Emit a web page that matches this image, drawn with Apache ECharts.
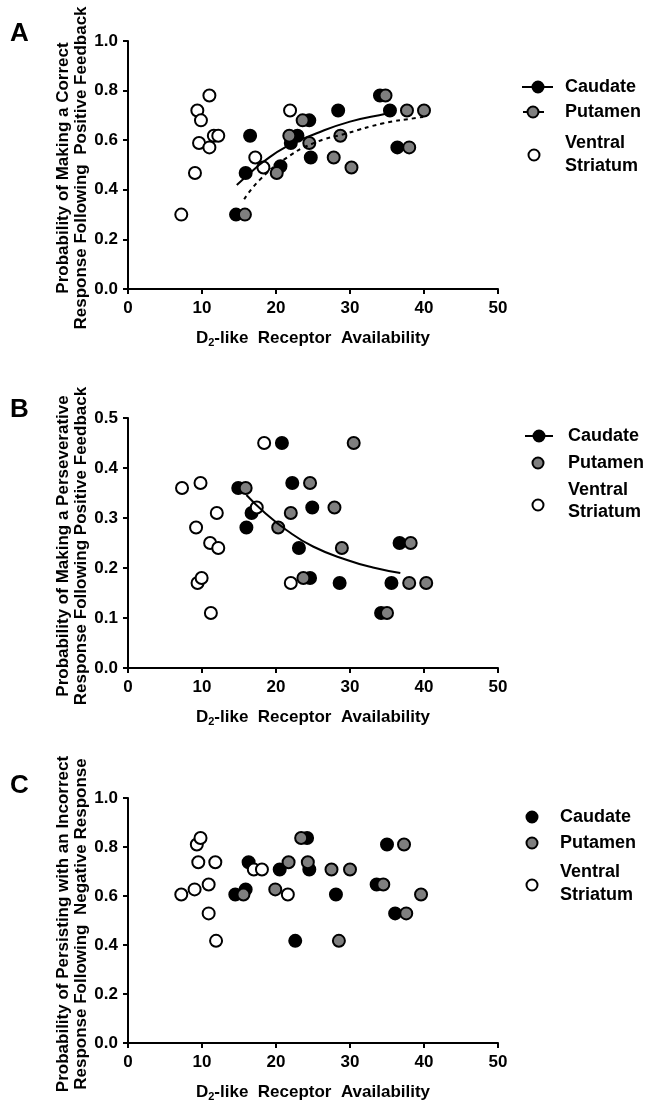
<!DOCTYPE html>
<html><head><meta charset="utf-8">
<script src="https://cdn.jsdelivr.net/npm/echarts@6/dist/echarts.min.js"></script>
<style>html,body{margin:0;padding:0;background:#fff}#c{width:648px;height:1103px}</style>
</head><body><div id="c"></div>
<script>
// ---------- Panel A: correct response following positive feedback ----------
const caudateA = [[14.6,0.30],[15.9,0.468],[16.5,0.618],[20.6,0.495],[22.0,0.589],[22.9,0.618],[24.5,0.68],[24.7,0.53],[28.4,0.72],[34.05,0.78],[35.4,0.72],[36.4,0.571]];
const putamenA = [[15.8,0.30],[20.1,0.468],[21.8,0.618],[23.6,0.68],[24.5,0.589],[27.8,0.53],[28.7,0.618],[30.2,0.49],[34.8,0.78],[37.7,0.72],[38.0,0.571],[40.0,0.72]];
const ventralA = [[7.2,0.30],[9.05,0.468],[9.37,0.72],[9.86,0.68],[9.6,0.589],[11.0,0.78],[11.0,0.571],[11.6,0.618],[12.2,0.618],[17.2,0.53],[18.3,0.49],[21.9,0.72]];
const fitCaudateA = [[14.7,0.419],[16.5,0.468],[18.3,0.513],[21.4,0.574],[25.5,0.628],[30.0,0.675],[35.0,0.708],[35.4,0.712]];
const fitPutamenA = [[15.7,0.362],[17.8,0.44],[21.0,0.52],[25.0,0.587],[29.6,0.628],[34.5,0.668],[39.0,0.69],[39.9,0.694]];
// ---------- Panel B: perseverative response following positive feedback ----------
const caudateB = [[14.9,0.36],[16.7,0.31],[16.0,0.281],[20.8,0.45],[22.2,0.37],[24.9,0.321],[23.1,0.24],[24.6,0.18],[28.6,0.17],[34.2,0.11],[35.6,0.17],[36.7,0.25]];
const putamenB = [[15.9,0.36],[20.3,0.281],[22.0,0.31],[24.6,0.37],[23.7,0.18],[27.9,0.321],[28.9,0.24],[30.5,0.45],[35.0,0.11],[38.2,0.25],[38.0,0.17],[40.3,0.17]];
const ventralB = [[7.3,0.36],[9.8,0.37],[9.2,0.281],[12.0,0.31],[11.1,0.25],[12.2,0.24],[9.4,0.17],[9.95,0.18],[11.2,0.11],[18.4,0.45],[17.4,0.321],[22.0,0.17]];
const fitCaudateB = [[16.0,0.346],[18.3,0.313],[21.4,0.276],[25.0,0.243],[29.6,0.216],[33.1,0.201],[36.8,0.19]];
// ---------- Panel C: persisting with incorrect response following negative response ----------
const caudateC = [[14.5,0.606],[15.9,0.627],[16.3,0.738],[20.5,0.708],[22.6,0.417],[24.2,0.837],[24.5,0.708],[28.1,0.606],[33.6,0.647],[35.0,0.81],[36.1,0.529]];
const putamenC = [[15.6,0.606],[19.9,0.627],[21.7,0.738],[23.4,0.837],[24.3,0.738],[27.5,0.708],[28.5,0.417],[30.0,0.708],[34.5,0.647],[37.3,0.81],[37.6,0.529],[39.6,0.606]];
const ventralC = [[7.2,0.606],[9.0,0.627],[9.3,0.81],[9.8,0.837],[9.5,0.738],[11.8,0.738],[10.9,0.647],[10.9,0.529],[11.9,0.417],[17.0,0.708],[18.1,0.708],[21.6,0.606]];

const panelLabels = ['A','B','C'];
const yMax = [1.0, 0.5, 1.0];
const yStep = [0.2, 0.1, 0.2];
const xMax = 50, xStep = 10;
const yTitles = [
  'Probability of Making a Correct\nResponse Following  Positive Feedback',
  'Probability of Making a Perseverative\nResponse Following Positive Feedback',
  'Probability of Persisting with an Incorrect\nResponse Following  Negative Response'
];
const groupNames = ['Caudate','Putamen','Ventral','Striatum'];

const FONT = '"Liberation Sans", Arial, sans-serif';
const grids = [
  {left:128, top:41, width:370, height:248},
  {left:128, top:418, width:370, height:250},
  {left:128, top:798, width:370, height:246}
];
const axisLine = {show:true, lineStyle:{color:'#000', width:2}};
const axisTick = {show:true, inside:false, length:5, lineStyle:{color:'#000', width:2}};

const xAxes = grids.map((g,i)=>({
  gridIndex:i, type:'value', min:0, max:xMax, interval:xStep,
  axisLine, axisTick, splitLine:{show:false},
  axisLabel:{margin:11, color:'#000', fontSize:17, fontWeight:'bold', fontFamily:FONT},
  name:'{b|D}{s|2}{b|-like  Receptor  Availability}',
  nameLocation:'middle', nameGap:39,
  nameTextStyle:{rich:{
    b:{fontSize:17, fontWeight:'bold', fontFamily:FONT, color:'#000', lineHeight:20},
    s:{fontSize:11, fontWeight:'bold', fontFamily:FONT, color:'#000', lineHeight:20, verticalAlign:'bottom'}
  }}
}));
const yAxes = grids.map((g,i)=>({
  gridIndex:i, type:'value', min:0, max:yMax[i], interval:yStep[i],
  axisLine, axisTick, splitLine:{show:false},
  axisLabel:{margin:10, color:'#000', fontSize:17, fontWeight:'bold', fontFamily:FONT,
    formatter:v=>v.toFixed(1)}
}));

function scat(data, i, fill){
  return {type:'scatter', xAxisIndex:i, yAxisIndex:i, data, symbol:'circle', symbolSize:12,
    itemStyle:{color:fill, borderColor:'#000', borderWidth:2, opacity:1}, z:2, silent:true};
}
function fit(data, i, dashed){
  return {type:'line', xAxisIndex:i, yAxisIndex:i, data, smooth:true, symbol:'none', z:5,
    lineStyle:{color:'#000', width:2, type: dashed ? [4,4] : 'solid'}, silent:true};
}
const BLACK='#000', GRAY='#7f7f7f', WHITE='#fff';
const series = [
  scat(caudateA,0,BLACK), scat(putamenA,0,GRAY), scat(ventralA,0,WHITE),
  fit(fitCaudateA,0,false), fit(fitPutamenA,0,true),
  scat(caudateB,1,BLACK), scat(putamenB,1,GRAY), scat(ventralB,1,WHITE),
  fit(fitCaudateB,1,false),
  scat(caudateC,2,BLACK), scat(putamenC,2,GRAY), scat(ventralC,2,WHITE)
];

// ---------- graphics: panel letters, y titles, legends ----------
const graphic = [];
const letterY = [34, 410, 786];
panelLabels.forEach((t,i)=>{
  graphic.push({type:'text', x:10, y:letterY[i], style:{text:t, font:'bold 26px '+FONT, fill:'#000', textAlign:'left', textVerticalAlign:'middle'}});
});
const titleY = [168, 546, 924];
yTitles.forEach((t,i)=>{
  graphic.push({type:'text', x:72, y:titleY[i], rotation:Math.PI/2,
    style:{text:t, font:'bold 17px '+FONT, fill:'#000', textAlign:'center', textVerticalAlign:'middle', lineHeight:18}});
});
function ltext(x,y,t){ graphic.push({type:'text', x, y, style:{text:t, font:'bold 18px '+FONT, fill:'#000', textAlign:'left', textVerticalAlign:'middle'}}); }
function lcircle(cx,cy,fill){ graphic.push({type:'circle', shape:{cx,cy,r:5.5}, style:{fill, stroke:'#000', lineWidth:2}, z:10}); }
function lline(x1,x2,y){ graphic.push({type:'line', shape:{x1,y1:y,x2,y2:y}, style:{stroke:'#000', lineWidth:2}, z:9}); }
// legend A
lline(522,553,87); lcircle(538,87,BLACK); ltext(565,87,groupNames[0]);
lline(523,527,112); lline(539,544,112); lcircle(533,112,GRAY); ltext(565,112,groupNames[1]);
lcircle(534,155,WHITE); ltext(565,143,groupNames[2]); ltext(565,166,groupNames[3]);
// legend B
lline(525,553,436); lcircle(539,436,BLACK); ltext(568,436,groupNames[0]);
lcircle(538,463,GRAY); ltext(568,463,groupNames[1]);
lcircle(538,505,WHITE); ltext(568,490,groupNames[2]); ltext(568,512,groupNames[3]);
// legend C
lcircle(532,817,BLACK); ltext(560,817,groupNames[0]);
lcircle(532,843,GRAY); ltext(560,843,groupNames[1]);
lcircle(532,885,WHITE); ltext(560,872,groupNames[2]); ltext(560,895,groupNames[3]);

const chart = echarts.init(document.getElementById('c'), null, {renderer:'canvas'});
chart.setOption({
  animation:false, backgroundColor:'#fff',
  grid:grids, xAxis:xAxes, yAxis:yAxes, series, graphic
});
</script></body></html>
